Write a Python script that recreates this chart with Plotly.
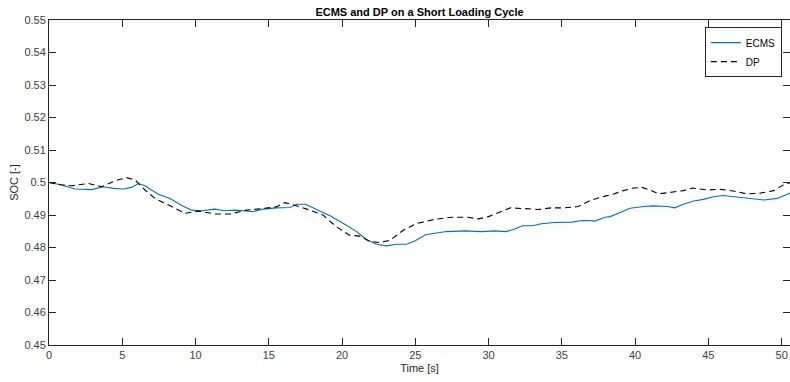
import plotly.graph_objects as go

# State of charge over a short loading cycle: ECMS controller vs. DP optimum
ecms_time = [0, 0.8, 1.77, 2.9, 3.7, 4.4, 5.07, 5.64, 6.1, 6.55, 7.46, 8.26, 9.06, 9.74,
             10.4, 11.3, 12.0, 12.7, 13.3, 13.9, 14.6, 15.5, 16.45, 16.9, 17.5, 18.27,
             19.18, 20.1, 21.0, 21.7, 22.37, 23.05, 23.7, 24.4, 25.0, 25.7, 26.35, 27.1,
             28.4, 29.5, 30.4, 31.2, 31.8, 32.3, 33.0, 33.6, 34.5, 35.7, 36.4, 37.3,
             37.95, 38.3, 38.98, 39.66, 40.6, 41.25, 42.2, 42.7, 43.3, 44.0, 44.66,
             45.35, 46.0, 47.2, 48.1, 48.8, 49.7, 50.35, 50.6]
ecms_soc = [0.5000, 0.4993, 0.4980, 0.4978, 0.4987, 0.4982, 0.4980, 0.4985, 0.4997,
            0.4990, 0.4964, 0.4951, 0.4929, 0.4915, 0.4913, 0.4918, 0.4913, 0.4915,
            0.4913, 0.4910, 0.4918, 0.4922, 0.4923, 0.4933, 0.4933, 0.4918, 0.4898,
            0.4874, 0.4849, 0.4823, 0.4810, 0.4805, 0.4810, 0.4810, 0.4821, 0.4839,
            0.4844, 0.4849, 0.4851, 0.4849, 0.4851, 0.4849, 0.4857, 0.4867, 0.4867,
            0.4873, 0.4877, 0.4878, 0.4883, 0.4882, 0.4893, 0.4895, 0.4908, 0.4921,
            0.4926, 0.4928, 0.4926, 0.4922, 0.4933, 0.4943, 0.4948, 0.4956, 0.4960,
            0.4955, 0.4951, 0.4946, 0.4951, 0.4964, 0.4968]

dp_time = [0, 0.8, 1.55, 2.68, 3.6, 4.5, 5.3, 5.87, 6.55, 7.23, 8.37, 9.28, 10.2, 11.33,
           12.35, 13.5, 14.6, 15.5, 16.1, 16.7, 17.8, 18.7, 19.6, 20.5, 21.2, 21.9,
           22.6, 23.3, 24.2, 25.1, 26.35, 27.5, 28.6, 29.3, 30.0, 30.7, 31.5, 32.3,
           33.4, 34.3, 35.2, 36.1, 37.0, 37.95, 38.5, 39.2, 39.9, 40.45, 41.0, 41.6,
           42.4, 43.3, 43.9, 44.9, 45.8, 46.7, 47.6, 48.5, 49.45, 50.1, 50.6]
dp_soc = [0.5000, 0.4993, 0.4990, 0.4997, 0.4987, 0.5005, 0.5015, 0.5008, 0.4977,
          0.4951, 0.4926, 0.4905, 0.4912, 0.4903, 0.4903, 0.4915, 0.4920, 0.4925,
          0.4938, 0.4931, 0.4915, 0.4900, 0.4864, 0.4838, 0.4835, 0.4819, 0.4815,
          0.4823, 0.4854, 0.4874, 0.4887, 0.4893, 0.4893, 0.4888, 0.4895, 0.4907,
          0.4922, 0.4920, 0.4917, 0.4922, 0.4922, 0.4926, 0.4946, 0.4958, 0.4964,
          0.4975, 0.4983, 0.4985, 0.4977, 0.4965, 0.4970, 0.4975, 0.4983, 0.4977,
          0.4979, 0.4974, 0.4965, 0.4967, 0.4975, 0.4992, 0.5000]

x_ticks = [0, 5, 10, 15, 20, 25, 30, 35, 40, 45, 50]
y_ticks = [0.45, 0.46, 0.47, 0.48, 0.49, 0.50, 0.51, 0.52, 0.53, 0.54, 0.55]
y_tick_text = ["0.45", "0.46", "0.47", "0.48", "0.49", "0.5", "0.51", "0.52", "0.53", "0.54", "0.55"]

axis_color = "#262626"
font_family = "Liberation Sans, Arial, Helvetica, sans-serif"

fig = go.Figure()
fig.add_trace(go.Scatter(x=ecms_time, y=ecms_soc, mode="lines", name="ECMS",
                         line=dict(color="#0072BD", width=1.1)))
fig.add_trace(go.Scatter(x=dp_time, y=dp_soc, mode="lines", name="DP",
                         line=dict(color="#000000", width=1.1, dash="6px,4px")))

axis_common = dict(showgrid=False, zeroline=False, showline=True, mirror="ticks",
                   linecolor=axis_color, linewidth=1, ticks="inside", ticklen=7,
                   tickcolor=axis_color, tickwidth=1,
                   tickfont=dict(family=font_family, size=11, color="#404040"))

fig.update_layout(
    width=790, height=382,
    margin=dict(l=49, r=0, t=20, b=37),
    paper_bgcolor="white", plot_bgcolor="white",
    font=dict(family=font_family, color="#262626"),
    title=dict(text="<b>ECMS and DP on a Short Loading Cycle</b>",
               x=(49 + 790) / 2 / 790, xanchor="center", y=1 - 12 / 382, yanchor="middle",
               font=dict(size=11, color="#000000")),
    xaxis=dict(range=[0, 50.57], tickvals=x_ticks, ticktext=[str(v) for v in x_ticks],
               title=dict(text="Time [s]", standoff=4,
                          font=dict(size=11, color="#262626")),
               **axis_common),
    yaxis=dict(range=[0.45, 0.55], tickvals=y_ticks, ticktext=y_tick_text,
               title=dict(text="SOC [-]", standoff=3,
                          font=dict(size=11, color="#262626")),
               **axis_common),
    legend=dict(x=0.989, xanchor="right", y=0.978, yanchor="top",
                bgcolor="white", bordercolor=axis_color, borderwidth=1,
                font=dict(size=10, color="#000000"), itemwidth=30,
                tracegroupgap=0),
    showlegend=True,
)

fig.write_html("out.html")
